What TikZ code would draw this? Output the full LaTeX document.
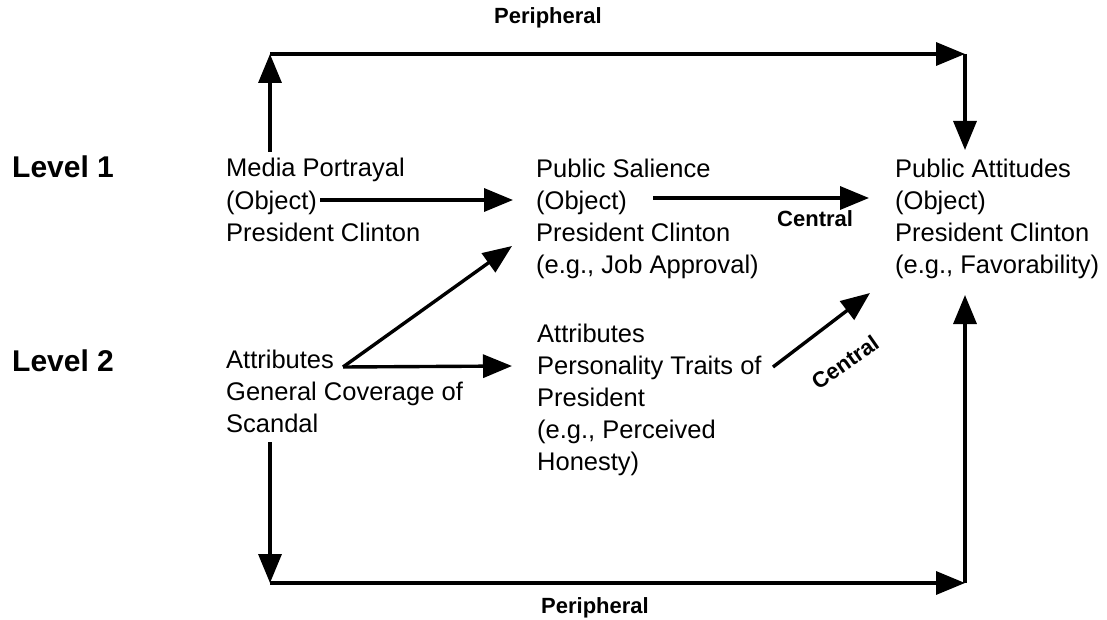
\documentclass[tikz,border=0pt]{standalone}
\usepackage{fontspec}
\setmainfont{Liberation Sans}
\usetikzlibrary{arrows.meta}
\begin{document}
\begin{tikzpicture}[x=1pt,y=-1pt,
  arr/.style={line width=3.4pt, -{Triangle[length=29pt,width=23pt]}},
  blk/.style={anchor=base west, inner sep=0pt, align=left,
    font=\fontsize{25.5}{32}\selectfont},
  lvl/.style={anchor=base west, inner sep=0pt,
    font=\fontsize{30}{34}\selectfont\bfseries},
  lab/.style={inner sep=0pt, font=\fontsize{22}{26}\selectfont\bfseries}]
\useasboundingbox (0,0) rectangle (1107,620);

% level captions
\node[lvl] (lv1) at (12,178) {Level 1};
\node[lvl] (lv2) at (12,371) {Level 2};

% text blocks (base anchor sits on the last line)
\node[blk] (media) at (226,241) {Media Portrayal\\(Object)\\President Clinton};
\node[blk] (sal) at (536,273) {Public Salience\\(Object)\\President Clinton\\(e.g., Job Approval)};
\node[blk] (att) at (895,273) {Public Attitudes\\(Object)\\President Clinton\\(e.g., Favorability)};
\node[blk] (cov) at (226,432) {Attributes\\General Coverage of\\Scandal};
\node[blk] (pers) at (537,470) {Attributes\\Personality Traits of\\President\\(e.g., Perceived\\Honesty)};

% route labels
\node[lab, anchor=base] (ptop) at (548,24) {Peripheral};
\node[lab, anchor=base] (pbot) at (595,613) {Peripheral};
\node[lab, anchor=base west] (cen1) at (777,227) {Central};
\node[lab, rotate=35] (cen2) at (845,362) {Central};

% arrow end points
\coordinate (m2e) at (320,200);
\coordinate (s2w) at (513,200);
\coordinate (s2e) at (653,198);
\coordinate (a2w) at (869,198);
\coordinate (cA) at (343,367);
\coordinate (s4w) at (512,246);
\coordinate (p2w) at (512,366);
\coordinate (pT) at (773,367);
\coordinate (aT) at (870,293);
\coordinate (mt) at (270,152);
\coordinate (tl) at (270,54);
\coordinate (tr) at (965,54);
\coordinate (at) at (965,150);
\coordinate (sb) at (270,442);
\coordinate (bl) at (270,583);
\coordinate (br) at (965,583);
\coordinate (ab) at (965,295);

% central routes
\draw[arr] (m2e) -- (s2w);
\draw[arr] (s2e) -- (a2w);
\draw[arr] (cA) -- (s4w);
\draw[arr] (cA) -- (p2w);
\draw[arr] (pT) -- (aT);

% peripheral routes
\draw[arr] (mt) -- (tl);
\draw[arr] (tl) -- (tr);
\draw[arr] (tr) -- (at);
\draw[arr] (sb) -- (bl);
\draw[arr] (bl) -- (br);
\draw[arr] (br) -- (ab);
\end{tikzpicture}
\end{document}
